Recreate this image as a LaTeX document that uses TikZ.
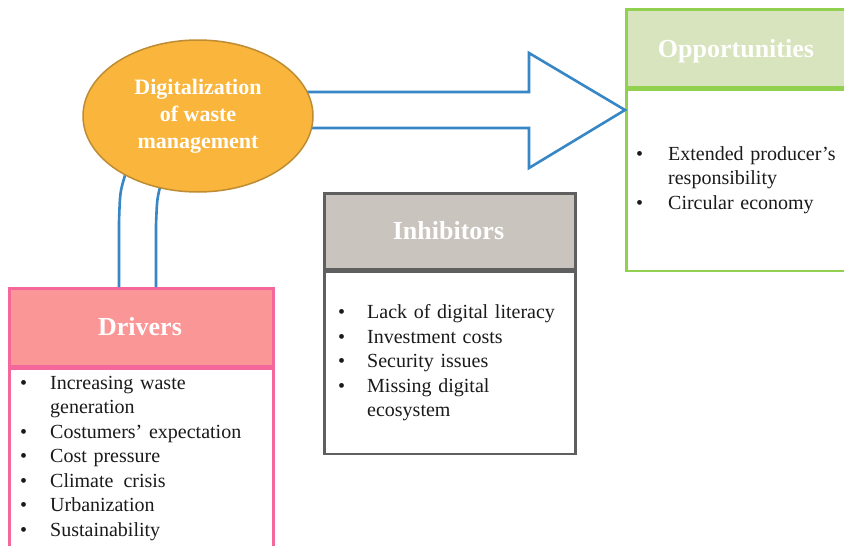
\documentclass[tikz,border=0pt]{standalone}
\usepackage{fontspec}
\setmainfont{Liberation Serif}
\usetikzlibrary{shapes.geometric,calc}
\definecolor{ellF}{HTML}{F9B53C}
\definecolor{ellB}{HTML}{BE8C32}
\definecolor{arrB}{HTML}{3786C6}
\definecolor{grnB}{HTML}{92D050}
\definecolor{grnF}{HTML}{D7E4BD}
\definecolor{pnkB}{HTML}{F4679A}
\definecolor{pnkF}{HTML}{FA9696}
\definecolor{gryB}{HTML}{5F5F5F}
\definecolor{gryF}{HTML}{C9C4BD}
\definecolor{txt}{HTML}{1A1A1A}
\newcommand{\bitem}[2][29pt]{\hangindent=#1\hangafter=1\noindent\makebox[#1][l]{\textbullet}#2\par}
\tikzset{
  box/.style={rectangle, line width=2.5pt, inner sep=0pt, anchor=north west},
  hdrtxt/.style={anchor=base, text=white, font=\fontsize{26}{30}\selectfont\bfseries, inner sep=0pt},
  listtxt/.style={anchor=base west, text=txt, inner sep=0pt, font=\fontsize{20}{24.5}\selectfont},
  conn/.style={draw=arrB, line width=2.6pt, line join=miter},
}
\begin{document}
\begin{tikzpicture}[x=1pt,y=-1pt]
\useasboundingbox (0,0) rectangle (844,546);
\fill[white] (0,0) rectangle (844,546);
\clip (0,0) rectangle (844,546);
% Opportunities
\node[box, draw=grnB, fill=grnF, minimum width=223pt, minimum height=78pt] (opph) at (625,8) {};
\node[box, draw=grnB, fill=white, minimum width=223pt, minimum height=181pt, anchor=north] (oppb) at (opph.south) {};
\node[hdrtxt] (oppt) at (736,57) {Opportunities};
\node[listtxt, text width=200pt] (oppl) at (636,160)
  {\raggedright\bitem[32pt]{Extended producer’s\newline responsibility}\bitem[32pt]{Circular economy}};
% Inhibitors
\node[box, draw=gryB, fill=gryF, minimum width=251pt, minimum height=76pt] (inhh) at (323,192) {};
\node[box, draw=gryB, fill=white, minimum width=251pt, minimum height=182pt, anchor=north] (inhb) at (inhh.south) {};
\node[hdrtxt] (inht) at (448.5,239) {Inhibitors};
\node[listtxt, text width=230pt] (inhl) at (338,318.5)
  {\raggedright\bitem{Lack of digital literacy}\bitem{Investment costs}\bitem{Security issues}\bitem{Missing digital\newline ecosystem}};
% Drivers
\node[box, draw=pnkB, fill=pnkF, minimum width=264pt, minimum height=78pt] (drvh) at (8,287) {};
\node[box, draw=pnkB, fill=white, minimum width=264pt, minimum height=179pt, anchor=north] (drvb) at (drvh.south) {};
\node[hdrtxt] (drvt) at (140,335) {Drivers};
\node[listtxt, text width=250pt] (drvl) at (20,389)
  {\raggedright\bitem[30pt]{Increasing waste\newline generation}\bitem[30pt]{Costumers’ expectation}\bitem[30pt]{Cost pressure}\bitem[30pt]{Climate\, crisis}\bitem[30pt]{Urbanization}\bitem[30pt]{Sustainability}};
% ellipse position (named first, drawn later on top)
\path node[ellipse, minimum width=230pt, minimum height=152pt, inner sep=0pt] (ellpos) at (198,116) {};
% block arrow
\coordinate (a1) at (290,92);
\coordinate (a2) at (290,128);
\coordinate (tip) at (oppb.west |- 0,110);
\draw[conn] (a1) -- (529,92) -- (529,53) -- (tip) -- (529,168) -- (529,128) -- (a2);
% connector to drivers
\coordinate (dl) at ($(drvh.north west)+(111,0)$);
\coordinate (dr) at ($(drvh.north west)+(148,0)$);
\draw[conn] (ellpos.219) .. controls (120,192) .. (119,222) -- (dl);
\draw[conn] (ellpos.242) .. controls (157,200) .. (156,225) -- (dr);
% ellipse
\node[ellipse, draw=ellB, fill=ellF, line width=1.5pt, minimum width=230pt, minimum height=152pt, inner sep=0pt,
  align=center, text=white, font=\fontsize{22}{27}\selectfont\bfseries] (ell) at (198,116)
  {Digitalization\\of waste\\management};
\end{tikzpicture}
\end{document}
